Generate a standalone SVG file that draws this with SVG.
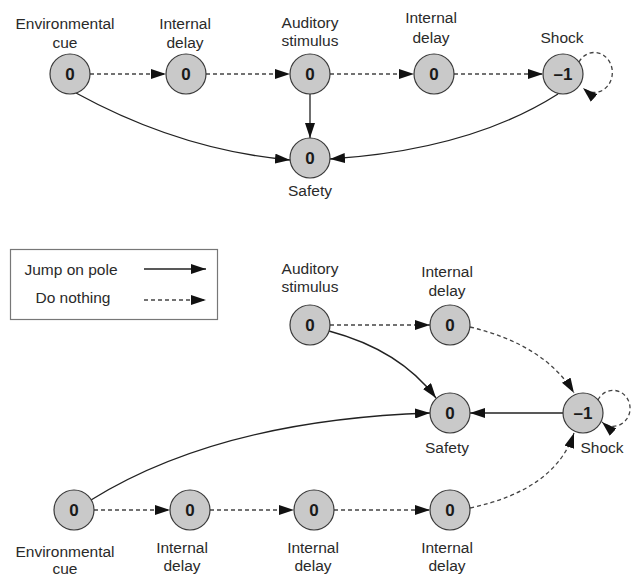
<svg xmlns="http://www.w3.org/2000/svg" width="637" height="577" viewBox="0 0 637 577">
<style>
  .node{fill:#c9c9c9;stroke:#3a3a3a;stroke-width:1.2}
  .val{font-family:"Liberation Sans",Arial,sans-serif;font-size:17px;font-weight:bold;fill:#1a1a1a;text-anchor:middle}
  .lbl{font-family:"Liberation Sans",Arial,sans-serif;font-size:15.5px;fill:#2a2a2a;text-anchor:middle}
  .leg{font-family:"Liberation Sans",Arial,sans-serif;font-size:15.5px;fill:#2a2a2a;text-anchor:middle}
  .solid{fill:none;stroke:#222;stroke-width:1.3}
  .dash{fill:none;stroke:#444;stroke-width:1.3;stroke-dasharray:4 3}
</style>
<defs>
  <marker id="ah" viewBox="0 0 15 10" refX="15" refY="5" markerWidth="15" markerHeight="10" markerUnits="userSpaceOnUse" orient="auto">
    <path d="M0,0 L15,5 L0,10 z" fill="#111"/>
  </marker>
</defs>
<rect width="637" height="577" fill="#fff"/>

<g id="legend">
  <rect x="10.5" y="249.5" width="207" height="70" fill="#fff" stroke="#777" stroke-width="1.2"/>
  <text class="leg" x="71" y="275">Jump on pole</text>
  <text class="leg" x="73" y="303">Do nothing</text>
  <path class="solid" d="M144,269 L206,269" marker-end="url(#ah)"/>
  <path class="dash" d="M144,300 L206,300" marker-end="url(#ah)"/>
</g>

<g id="connectors">
  <!-- top diagram -->
  <path class="dash" d="M90,74 L166,74" marker-end="url(#ah)"/>
  <path class="dash" d="M206,74 L290,74" marker-end="url(#ah)"/>
  <path class="dash" d="M330,74 L414,74" marker-end="url(#ah)"/>
  <path class="dash" d="M454,74 L543,74" marker-end="url(#ah)"/>
  <path class="solid" d="M310,94 L310,138" marker-end="url(#ah)"/>
  <path class="solid" d="M76,93 Q180,150 290,160" marker-end="url(#ah)"/>
  <path class="solid" d="M558,94 Q470,150 330,159" marker-end="url(#ah)"/>
  <path class="dash" d="M579,62 A18,20 0 1 1 583,88" marker-end="url(#ah)"/>
  <!-- bottom diagram -->
  <path class="dash" d="M330,325 L430,325" marker-end="url(#ah)"/>
  <path class="dash" d="M470,327 Q545,345 574,393" marker-end="url(#ah)"/>
  <path class="solid" d="M329,331 Q400,350 436,398" marker-end="url(#ah)"/>
  <path class="solid" d="M563,413 L470,413" marker-end="url(#ah)"/>
  <path class="solid" d="M91,500 Q220,420 430,413" marker-end="url(#ah)"/>
  <path class="dash" d="M94,510 L170,510" marker-end="url(#ah)"/>
  <path class="dash" d="M210,510 L294,510" marker-end="url(#ah)"/>
  <path class="dash" d="M334,510 L430,510" marker-end="url(#ah)"/>
  <path class="dash" d="M470,508 Q555,490 574,433" marker-end="url(#ah)"/>
  <path class="dash" d="M598,400 A17,18 0 1 1 602,422" marker-end="url(#ah)"/>
</g>

<!-- top diagram nodes -->
<g id="t-env">
  <circle class="node" cx="70" cy="74" r="20"/>
  <text class="val" x="70" y="80">0</text>
  <text class="lbl" x="65" y="29">Environmental</text>
  <text class="lbl" x="65" y="48">cue</text>
</g>
<g id="t-delay1">
  <circle class="node" cx="186" cy="74" r="20"/>
  <text class="val" x="186" y="80">0</text>
  <text class="lbl" x="185" y="29">Internal</text>
  <text class="lbl" x="185" y="48">delay</text>
</g>
<g id="t-auditory">
  <circle class="node" cx="310" cy="74" r="20"/>
  <text class="val" x="310" y="80">0</text>
  <text class="lbl" x="310" y="28">Auditory</text>
  <text class="lbl" x="310" y="46">stimulus</text>
</g>
<g id="t-delay2">
  <circle class="node" cx="434" cy="74" r="20"/>
  <text class="val" x="434" y="80">0</text>
  <text class="lbl" x="431" y="23">Internal</text>
  <text class="lbl" x="431" y="43">delay</text>
</g>
<g id="t-shock">
  <circle class="node" cx="563" cy="74" r="20"/>
  <text class="val" x="563" y="80">–1</text>
  <text class="lbl" x="562" y="43">Shock</text>
</g>
<g id="t-safety">
  <circle class="node" cx="310" cy="158" r="20"/>
  <text class="val" x="310" y="164">0</text>
  <text class="lbl" x="310" y="196">Safety</text>
</g>

<!-- bottom diagram nodes -->
<g id="b-auditory">
  <circle class="node" cx="310" cy="325" r="20"/>
  <text class="val" x="310" y="331">0</text>
  <text class="lbl" x="310" y="274">Auditory</text>
  <text class="lbl" x="310" y="292">stimulus</text>
</g>
<g id="b-delay-top">
  <circle class="node" cx="450" cy="325" r="20"/>
  <text class="val" x="450" y="331">0</text>
  <text class="lbl" x="447" y="277">Internal</text>
  <text class="lbl" x="447" y="296">delay</text>
</g>
<g id="b-safety">
  <circle class="node" cx="450" cy="413" r="20"/>
  <text class="val" x="450" y="419">0</text>
  <text class="lbl" x="447" y="453">Safety</text>
</g>
<g id="b-shock">
  <circle class="node" cx="583" cy="413" r="20"/>
  <text class="val" x="583" y="419">–1</text>
  <text class="lbl" x="602" y="453">Shock</text>
</g>
<g id="b-env">
  <circle class="node" cx="74" cy="510" r="20"/>
  <text class="val" x="74" y="516">0</text>
  <text class="lbl" x="65" y="557">Environmental</text>
  <text class="lbl" x="65" y="574">cue</text>
</g>
<g id="b-delay1">
  <circle class="node" cx="190" cy="510" r="20"/>
  <text class="val" x="190" y="516">0</text>
  <text class="lbl" x="182" y="553">Internal</text>
  <text class="lbl" x="182" y="571">delay</text>
</g>
<g id="b-delay2">
  <circle class="node" cx="314" cy="510" r="20"/>
  <text class="val" x="314" y="516">0</text>
  <text class="lbl" x="313" y="553">Internal</text>
  <text class="lbl" x="313" y="571">delay</text>
</g>
<g id="b-delay3">
  <circle class="node" cx="450" cy="510" r="20"/>
  <text class="val" x="450" y="516">0</text>
  <text class="lbl" x="447" y="553">Internal</text>
  <text class="lbl" x="447" y="571">delay</text>
</g>
</svg>
